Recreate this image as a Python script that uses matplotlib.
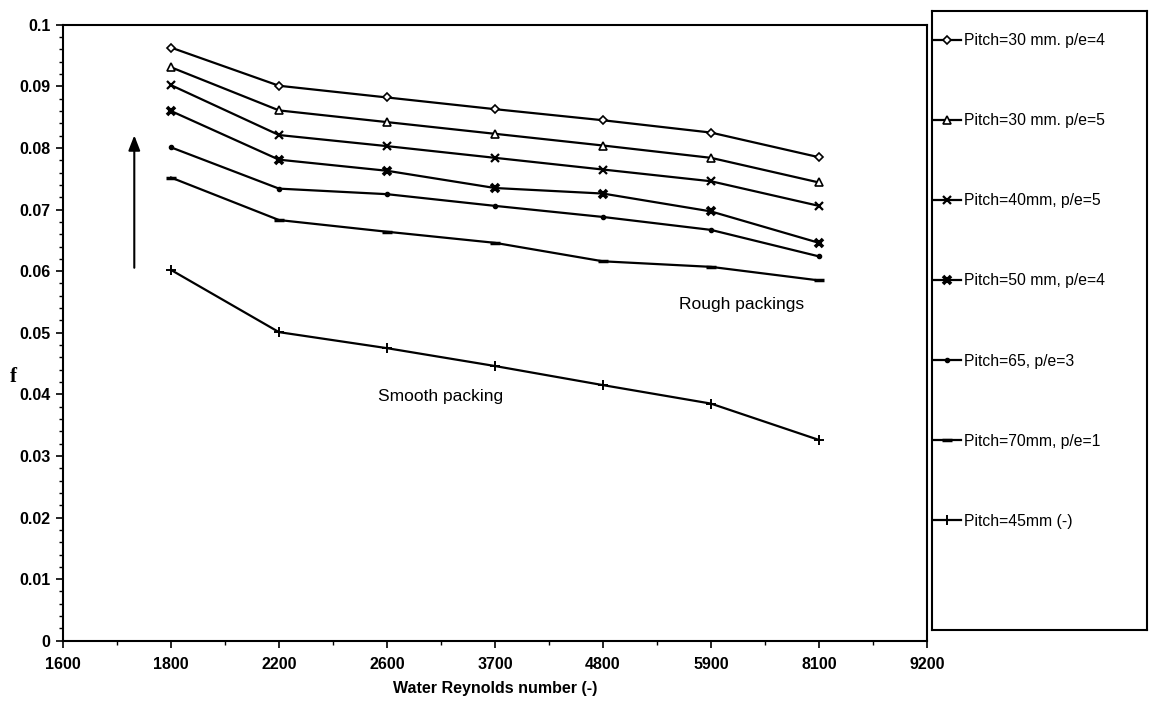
import numpy as np
import matplotlib
matplotlib.use("Agg")
import matplotlib.pyplot as plt
from matplotlib.ticker import FixedLocator, FuncFormatter

plt.rcParams['font.family'] = ['Liberation Sans', 'DejaVu Sans']

# category axis of the original (equally spaced labels)
x_labels = ['1600', '1800', '2200', '2600', '3700', '4800', '5900', '8100', '9200']
re_cats = ['1800', '2200', '2600', '3700', '4800', '5900', '8100']

f_p30_e4 = [0.0963, 0.0901, 0.0882, 0.0863, 0.0845, 0.0825, 0.0785]
f_p30_e5 = [0.0931, 0.0861, 0.0842, 0.0823, 0.0804, 0.0784, 0.0744]
f_p40_e5 = [0.0902, 0.0821, 0.0803, 0.0784, 0.0765, 0.0746, 0.0706]
f_p50_e4 = [0.0860, 0.0781, 0.0763, 0.0735, 0.0726, 0.0697, 0.0646]
f_p65_e3 = [0.0801, 0.0734, 0.0725, 0.0706, 0.0688, 0.0667, 0.0624]
f_p70_e1 = [0.0752, 0.0683, 0.0664, 0.0646, 0.0616, 0.0607, 0.0585]
f_p45_smooth = [0.0602, 0.0501, 0.0475, 0.0446, 0.0415, 0.0385, 0.0326]

labels = ['Pitch=30 mm. p/e=4', 'Pitch=30 mm. p/e=5', 'Pitch=40mm, p/e=5',
          'Pitch=50 mm, p/e=4', 'Pitch=65, p/e=3', 'Pitch=70mm, p/e=1',
          'Pitch=45mm (-)']

series = [f_p30_e4, f_p30_e5, f_p40_e5, f_p50_e4, f_p65_e3, f_p70_e1, f_p45_smooth]
# marker style per series (mimics the old Excel chart)
styles = [
    dict(marker='D', ms=4.5, mfc='white', mew=1.2),
    dict(marker='^', ms=5.5, mfc='white', mew=1.2),
    dict(marker='x', ms=6, mew=1.6),
    dict(marker='x', ms=6, mew=2.6),
    dict(marker='o', ms=3, mfc='black', mew=1),
    dict(marker='_', ms=7, mew=2.5),
    dict(marker='+', ms=7, mew=1.4),
]

x_idx = [x_labels.index(c) for c in re_cats]

fig = plt.figure(figsize=(11.5, 7.08), dpi=100)
ax = fig.add_axes([0.0548, 0.095, 0.7512, 0.870])

handles = []
for vals, st, lab in zip(series, styles, labels):
    ln, = ax.plot(x_idx, vals, color='black', lw=1.6, mec='black', label=lab, **st)
    handles.append(ln)

ax.set_xlim(0, len(x_labels) - 1)
ax.set_ylim(0, 0.1)
ax.xaxis.set_major_locator(FixedLocator(range(len(x_labels))))
ax.set_xticklabels(x_labels)
ax.xaxis.set_minor_locator(FixedLocator(np.arange(0.5, len(x_labels) - 1, 1)))
ax.yaxis.set_major_locator(FixedLocator(np.linspace(0, 0.1, 11)))
ax.yaxis.set_minor_locator(FixedLocator(np.linspace(0, 0.1, 51)))
ax.yaxis.set_major_formatter(FuncFormatter(lambda v, p: '{:g}'.format(round(v, 3))))

ax.tick_params(axis='both', which='major', direction='out', length=5, width=1.2,
               labelsize=11.5, pad=4)
ax.tick_params(axis='x', which='major', pad=7)
ax.tick_params(axis='both', which='minor', direction='out', length=3, width=1)
for t in ax.get_xticklabels() + ax.get_yticklabels():
    t.set_fontweight('bold')
for s in ax.spines.values():
    s.set_linewidth(1.5)

ax.set_xlabel('Water Reynolds number (-)', fontsize=11.5, fontweight='bold', labelpad=6)
fig.text(0.012, 0.468, 'f', fontsize=15, fontweight='bold',
         family=['Liberation Serif', 'DejaVu Serif'], ha='center', va='center')

# vertical arrow on the left
ax.annotate('', xy=(0.66, 0.0825), xytext=(0.66, 0.0601),
            arrowprops=dict(arrowstyle='-|>,head_length=0.9,head_width=0.35',
                            color='black', lw=1.5))

ax.text(6.28, 0.0546, 'Rough packings', fontsize=12.5, ha='center', va='center')
ax.text(3.5, 0.0397, 'Smooth packing', fontsize=12.5, ha='center', va='center')

# separate legend box on the right
lax = fig.add_axes([0.8104, 0.110, 0.1870, 0.874])
lax.set_xticks([])
lax.set_yticks([])
for s in lax.spines.values():
    s.set_linewidth(1.5)
lax.legend(handles, labels, loc='upper left', bbox_to_anchor=(-0.02, 0.975),
           frameon=False, fontsize=11.3, labelspacing=4.15, handlelength=1.7,
           handletextpad=0.2, borderaxespad=0.0)

fig.savefig('out.png', dpi=100)
